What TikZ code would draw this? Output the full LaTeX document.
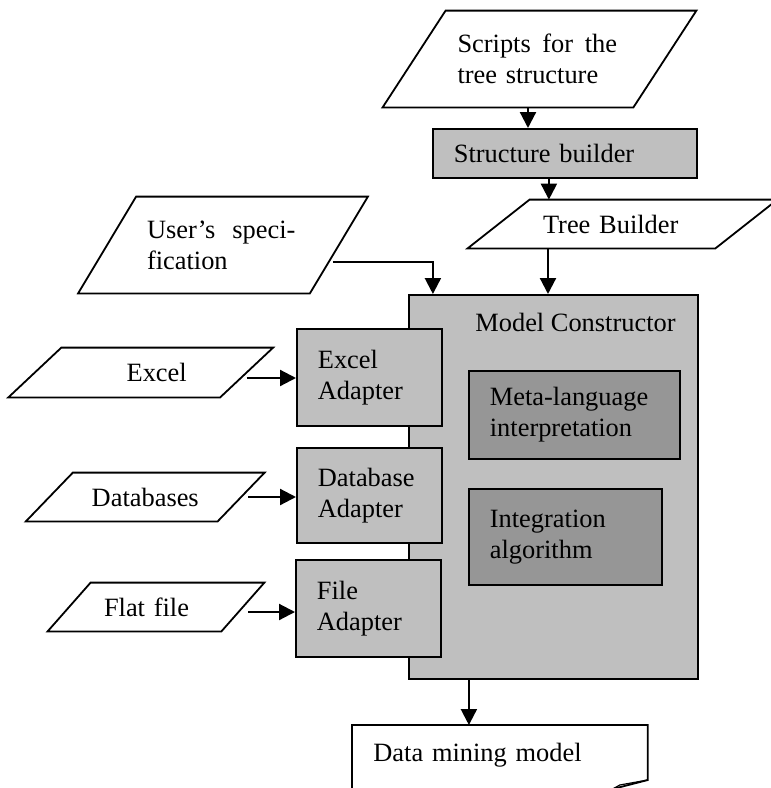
\documentclass[tikz,border=0pt]{standalone}
\usepackage{fontspec}
\setmainfont{Liberation Serif}
\usetikzlibrary{arrows.meta}

\definecolor{boxgray}{gray}{0.75}
\definecolor{innergray}{gray}{0.59}
\newcommand\diagfont{\fontsize{13.2}{15.5}\selectfont}
% slanted outline round a plain node: #1 node name, #2 half of the slant
\newcommand\ioshape[2]{%
  \draw[io line] ([xshift=#2]#1.north west) -- ([xshift=#2]#1.north east)
    -- ([xshift=-#2]#1.south east) -- ([xshift=-#2]#1.south west) -- cycle;}

\tikzset{
  io line/.style={line width=0.9pt, line join=miter},
  io/.style={inner sep=0pt, font=\diagfont},
  box/.style={draw, fill=boxgray, line width=0.9pt, anchor=north west,
    inner xsep=10.5pt, inner ysep=0pt, align=left, font=\diagfont},
  inner box/.style={box, fill=innergray},
  arr/.style={-{Triangle[length=8pt,width=8pt]}, line width=1.1pt},
}

\begin{document}
\begin{tikzpicture}[x=0.5pt, y=-0.5pt]
\useasboundingbox (0,0) rectangle (771,788);
\clip (0,0) rectangle (771,788);

% tree structure chain
\node[io, minimum width=125pt, minimum height=48pt, text width=82pt, align=left]
  (scripts) at (539.5,59) {Scripts\hspace{5.8pt}for\hspace{5.8pt}the\\tree structure};
\ioshape{scripts}{15.75pt}
\node[box, minimum width=132pt, minimum height=24.5pt, text width=111pt]
  (builder) at (432,128) {Structure builder};
\node[io, minimum width=123.5pt, minimum height=24pt, text width=79.5pt, align=left]
  (tree) at (622.5,224) {Tree Builder};
\ioshape{tree}{15.5pt}
\node[io, minimum width=115.5pt, minimum height=48pt, text width=76pt, align=left]
  (user) at (223,245) {User’s\hspace{8.5pt}speci-\\fication};
\ioshape{user}{14.5pt}

% model constructor and its parts
\node[box, minimum width=144.5pt, minimum height=192pt] (model) at (408,294) {};
\node[io, anchor=west] (modeltitle) at (475,322) {Model Constructor};
\node[inner box, minimum width=105.5pt, minimum height=44pt, text width=84.5pt]
  (meta) at (468,370) {Meta-language\\interpretation};
\node[inner box, minimum width=96.5pt, minimum height=48pt, text width=75.5pt]
  (integ) at (468,488) {Integration\\algorithm};

% adapters
\node[box, minimum width=72.5pt, minimum height=48.5pt, text width=51.5pt]
  (exceladapter) at (296,328) {Excel\\Adapter};
\node[box, minimum width=72.5pt, minimum height=47.5pt, text width=51.5pt]
  (dbadapter) at (296,447) {Database\\Adapter};
\node[box, minimum width=72.5pt, minimum height=48.5pt, text width=51.5pt]
  (fileadapter) at (295,559) {File\\Adapter};

% data sources
\node[io, minimum width=105.5pt, minimum height=24.5pt, text width=46pt, align=right]
  (excel) at (140.75,372.5) {Excel};
\ioshape{excel}{13.25pt}
\node[io, minimum width=95.5pt, minimum height=24pt]
  (databases) at (145.25,497) {Databases};
\ioshape{databases}{11.75pt}
\node[io, minimum width=86.5pt, minimum height=24pt, text width=52pt, align=left]
  (flat) at (156,607) {Flat file};
\ioshape{flat}{10.75pt}

% output document
\node[io, anchor=north west, minimum width=147.5pt, minimum height=30pt,
  text width=126.5pt, inner xsep=10.5pt, align=left]
  (dmm) at (352,725) {Data mining model};
\draw[io line] ([yshift=-4pt]dmm.south west) -- (dmm.north west) -- (dmm.north east)
  -- ([yshift=-27.5pt]dmm.north east) coordinate (fold) -- ++(-17.5pt,-4.5pt);
\draw[line width=0.6pt] (fold) -- ++(-14pt,-2.5pt) -- ++(-3.5pt,-2pt);

% arrows
\draw[arr] ([xshift=-5.75pt]scripts.south) coordinate (a1) -- (a1 |- builder.north);
\draw[arr] ([xshift=-8pt]builder.south) coordinate (a2) -- (a2 |- tree.north);
\draw[arr] ([xshift=-37.25pt]tree.south) coordinate (a3) -- (a3 |- model.north);
\draw[arr] ([xshift=-3pt,yshift=-8.5pt]user.east) -| ([xshift=-60.25pt]model.north);
\draw[arr] ([yshift=-2.75pt]excel.east) coordinate (a4) -- (a4 -| exceladapter.west);
\draw[arr] ([xshift=3.5pt]databases.east) coordinate (a5) -- (a5 -| dbadapter.west);
\draw[arr] ([xshift=2.75pt,yshift=-2.5pt]flat.east) coordinate (a6) -- (a6 -| fileadapter.west);
\draw[arr] ([xshift=-42.25pt]model.south) coordinate (a7) -- (a7 |- dmm.north);
\end{tikzpicture}
\end{document}
